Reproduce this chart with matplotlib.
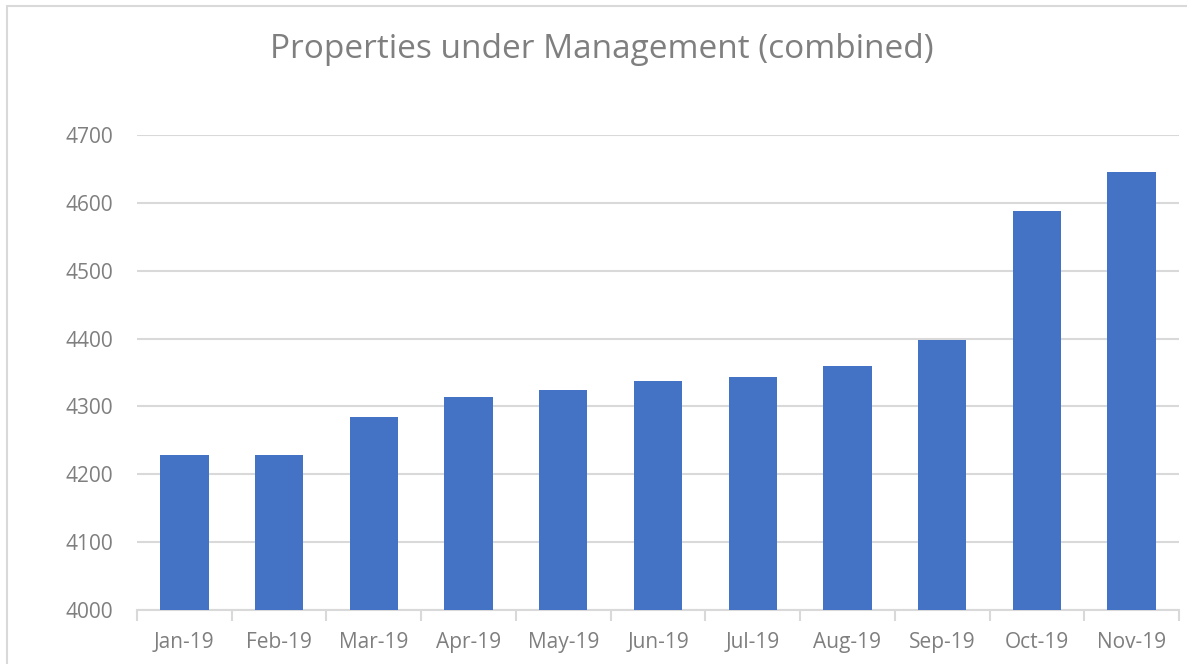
import matplotlib
matplotlib.use("Agg")
import matplotlib.pyplot as plt
import matplotlib.patches as patches
import numpy as np

months = ["Jan-19", "Feb-19", "Mar-19", "Apr-19", "May-19", "Jun-19",
          "Jul-19", "Aug-19", "Sep-19", "Oct-19", "Nov-19"]
properties = [4228, 4228, 4284, 4314, 4324, 4337, 4343, 4360, 4398, 4588, 4645]
yticks = [4000, 4100, 4200, 4300, 4400, 4500, 4600, 4700]

plt.rcParams['font.family'] = ['Open Sans', 'DejaVu Sans']
W, H = 1187, 664
fig = plt.figure(figsize=(W / 100, H / 100), dpi=100)

# outer chart border (right and bottom edges fall outside the picture)
border = patches.Rectangle((7 / W, -0.1), 1.2, 1.1 - 6 / H, transform=fig.transFigure,
                           fill=False, edgecolor="#d9d9d9", linewidth=1.5)
fig.add_artist(border)

ax = fig.add_axes([137 / W, (H - 610) / H, (1179 - 137) / W, (610 - 135) / H])
x = np.arange(len(months))
ax.bar(x, properties, width=0.51, color="#4472c4", zorder=3)

ax.set_ylim(4000, 4700)
ax.set_xlim(-0.5, len(months) - 0.5)
ax.set_yticks(yticks)
ax.set_xticks(x)
ax.set_xticklabels(months)
ax.set_xticks(np.arange(-0.5, len(months)), minor=True)

ax.grid(axis="y", color="#d9d9d9", linewidth=1.5, zorder=0)
for s in ["top", "right", "left"]:
    ax.spines[s].set_visible(False)
ax.spines["bottom"].set_color("#d9d9d9")
ax.spines["bottom"].set_linewidth(1.5)

ax.tick_params(axis="y", length=0, pad=17, labelsize=15, labelcolor="#7f7f7f")
ax.tick_params(axis="x", which="major", length=0, pad=16, labelsize=15, labelcolor="#7f7f7f")
ax.tick_params(axis="x", which="minor", length=8, width=1.5, color="#d9d9d9")

fig.text(0.507, 1 - 58 / H, "Properties under Management (combined)", ha="center", va="baseline",
         fontsize=24, color="#7f7f7f")

fig.savefig("out.png", dpi=100)
